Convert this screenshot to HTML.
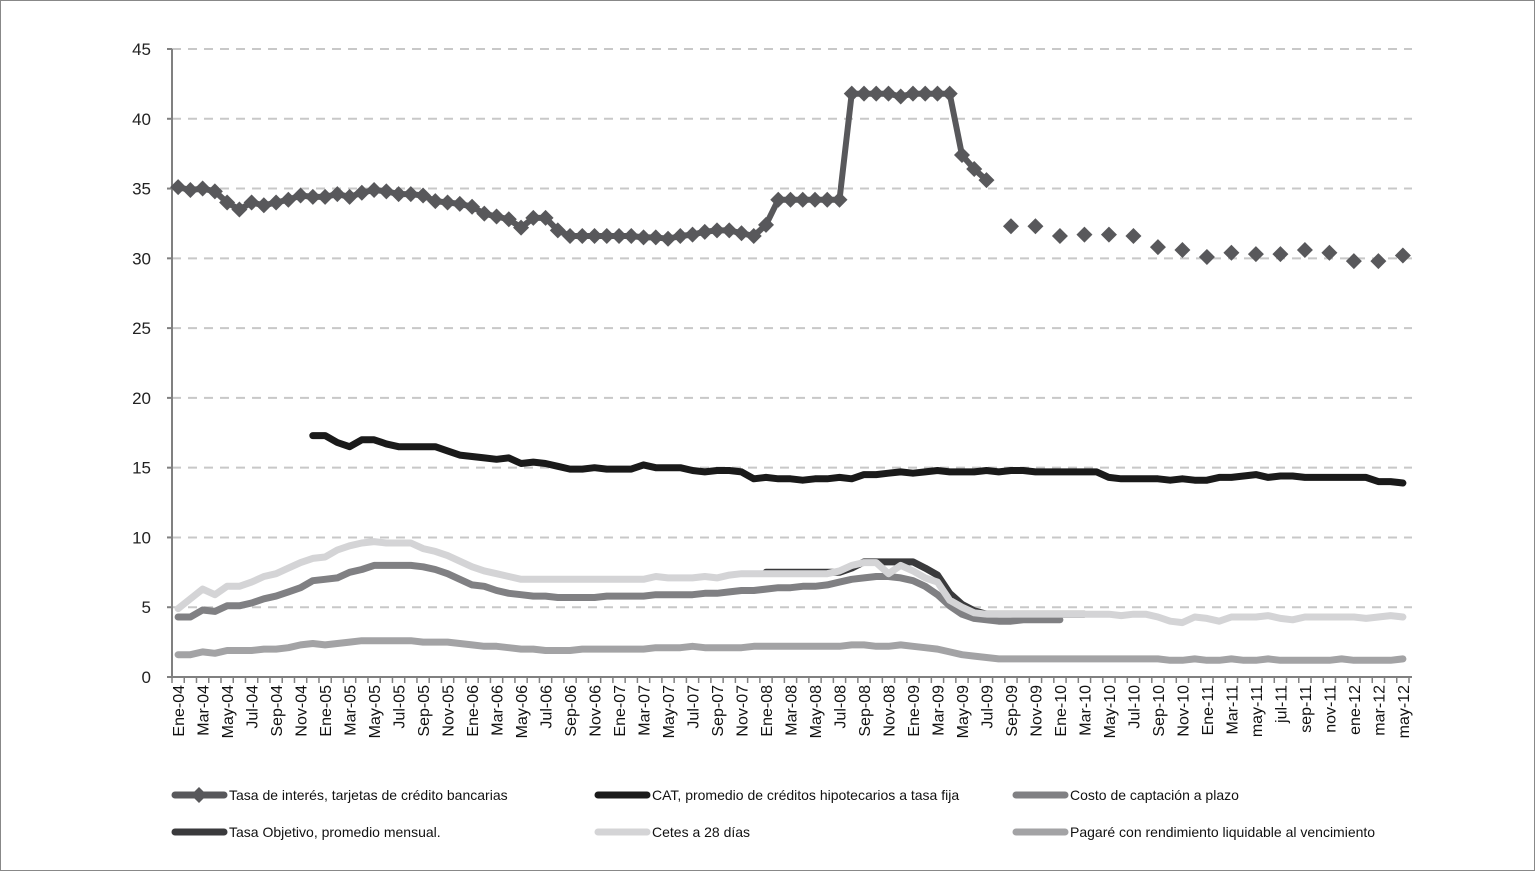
<!DOCTYPE html>
<html><head><meta charset="utf-8"><style>
html,body{margin:0;padding:0;background:#fff}
svg{display:block;font-family:"Gill Sans","Liberation Sans",sans-serif}
</style></head><body>
<svg id="chart" width="1535" height="871" viewBox="0 0 1535 871">
<rect x="0.5" y="0.5" width="1534" height="870" fill="#fff" stroke="#888"/>
<g id="grid"></g><g id="axes"></g><g id="series"></g><g id="legend"></g>
</svg>
<script>
const months=["Ene","Feb","Mar","Abr","May","Jun","Jul","Ago","Sep","Oct","Nov","Dic"];
const monthsLow=["ene","feb","mar","abr","may","jun","jul","ago","sep","oct","nov","dic"];
const yTicks=[0,5,10,15,20,25,30,35,40,45];
const N=101;
const tarjetas=[35.1,34.9,35.0,34.8,34.0,33.5,34.0,33.8,34.0,34.2,34.5,34.4,34.4,34.6,34.4,34.7,34.9,34.8,34.6,34.6,34.5,34.1,34.0,33.9,33.7,33.2,33.0,32.8,32.2,32.9,32.9,32.0,31.6,31.6,31.6,31.6,31.6,31.6,31.5,31.5,31.4,31.6,31.7,31.9,32.0,32.0,31.8,31.6,32.4,34.2,34.2,34.2,34.2,34.2,34.2,41.8,41.8,41.8,41.8,41.6,41.8,41.8,41.8,41.8,37.4,36.4,35.6,null,32.3,null,32.3,null,31.6,null,31.7,null,31.7,null,31.6,null,30.8,null,30.6,null,30.1,null,30.4,null,30.3,null,30.3,null,30.6,null,30.4,null,29.8,null,29.8,null,30.2];
const cat=[null,null,null,null,null,null,null,null,null,null,null,17.3,17.3,16.8,16.5,17.0,17.0,16.7,16.5,16.5,16.5,16.5,16.2,15.9,15.8,15.7,15.6,15.7,15.3,15.4,15.3,15.1,14.9,14.9,15.0,14.9,14.9,14.9,15.2,15.0,15.0,15.0,14.8,14.7,14.8,14.8,14.7,14.2,14.3,14.2,14.2,14.1,14.2,14.2,14.3,14.2,14.5,14.5,14.6,14.7,14.6,14.7,14.8,14.7,14.7,14.7,14.8,14.7,14.8,14.8,14.7,14.7,14.7,14.7,14.7,14.7,14.3,14.2,14.2,14.2,14.2,14.1,14.2,14.1,14.1,14.3,14.3,14.4,14.5,14.3,14.4,14.4,14.3,14.3,14.3,14.3,14.3,14.3,14.0,14.0,13.9];
const costo=[4.3,4.3,4.8,4.7,5.1,5.1,5.3,5.6,5.8,6.1,6.4,6.9,7.0,7.1,7.5,7.7,8.0,8.0,8.0,8.0,7.9,7.7,7.4,7.0,6.6,6.5,6.2,6.0,5.9,5.8,5.8,5.7,5.7,5.7,5.7,5.8,5.8,5.8,5.8,5.9,5.9,5.9,5.9,6.0,6.0,6.1,6.2,6.2,6.3,6.4,6.4,6.5,6.5,6.6,6.8,7.0,7.1,7.2,7.2,7.1,6.9,6.5,5.9,5.1,4.5,4.2,4.1,4.0,4.0,4.1,4.1,4.1,4.1];
const objetivo=[null,null,null,null,null,null,null,null,null,null,null,null,null,null,null,null,null,null,null,null,null,null,null,null,null,null,null,null,null,null,null,null,null,null,null,null,null,null,null,null,null,null,null,null,null,null,null,null,7.5,7.5,7.5,7.5,7.5,7.5,7.5,7.8,8.25,8.25,8.25,8.25,8.25,7.8,7.3,6.0,5.2,4.75,4.5,4.5,4.5,4.5,4.5,4.5,4.5,4.5,4.5];
const cetes=[4.9,5.6,6.3,5.9,6.5,6.5,6.8,7.2,7.4,7.8,8.2,8.5,8.6,9.1,9.4,9.6,9.7,9.6,9.6,9.6,9.2,9.0,8.7,8.3,7.9,7.6,7.4,7.2,7.0,7.0,7.0,7.0,7.0,7.0,7.0,7.0,7.0,7.0,7.0,7.2,7.1,7.1,7.1,7.2,7.1,7.3,7.4,7.4,7.4,7.4,7.4,7.4,7.4,7.4,7.6,8.0,8.2,8.2,7.4,8.0,7.6,7.1,6.8,5.5,5.0,4.6,4.5,4.5,4.5,4.5,4.5,4.5,4.5,4.5,4.5,4.5,4.5,4.4,4.5,4.5,4.3,4.0,3.9,4.3,4.2,4.0,4.3,4.3,4.3,4.4,4.2,4.1,4.3,4.3,4.3,4.3,4.3,4.2,4.3,4.4,4.3];
const pagare=[1.6,1.6,1.8,1.7,1.9,1.9,1.9,2.0,2.0,2.1,2.3,2.4,2.3,2.4,2.5,2.6,2.6,2.6,2.6,2.6,2.5,2.5,2.5,2.4,2.3,2.2,2.2,2.1,2.0,2.0,1.9,1.9,1.9,2.0,2.0,2.0,2.0,2.0,2.0,2.1,2.1,2.1,2.2,2.1,2.1,2.1,2.1,2.2,2.2,2.2,2.2,2.2,2.2,2.2,2.2,2.3,2.3,2.2,2.2,2.3,2.2,2.1,2.0,1.8,1.6,1.5,1.4,1.3,1.3,1.3,1.3,1.3,1.3,1.3,1.3,1.3,1.3,1.3,1.3,1.3,1.3,1.2,1.2,1.3,1.2,1.2,1.3,1.2,1.2,1.3,1.2,1.2,1.2,1.2,1.2,1.3,1.2,1.2,1.2,1.2,1.3];

const NS="http://www.w3.org/2000/svg";
const L=172,R=1412,T=49,B=677;
const step=(1409-L)/N;
function xs(i){return L+step*(i+0.5);}
function ys(v){return B-(B-T)*v/45;}
function mk(tag,attrs,parent){const e=document.createElementNS(NS,tag);for(const k in attrs)e.setAttribute(k,attrs[k]);parent.appendChild(e);return e;}
const grid=document.getElementById('grid'),axes=document.getElementById('axes'),ser=document.getElementById('series'),leg=document.getElementById('legend');

yTicks.forEach(v=>{
  if(v>0){const g=mk('line',{x1:L,x2:R,y1:ys(v),y2:ys(v),stroke:'#c8c8c8','stroke-width':2,'stroke-dasharray':'9,7'},grid);
  
  }
  const t=mk('text',{x:151,y:ys(v)+6,'text-anchor':'end','font-size':17,fill:'#222'},axes);t.textContent=v;
  
  
  const tk=mk('line',{x1:L-5,x2:L,y1:ys(v),y2:ys(v),stroke:'#808080','stroke-width':2},axes);
  
  
});
const ya=mk('line',{x1:L,x2:L,y1:T,y2:B,stroke:'#808080','stroke-width':2},axes);


const xa=mk('line',{x1:L,x2:R,y1:B,y2:B,stroke:'#808080','stroke-width':2},axes);


for(let i=0;i<=N;i++){const x=L+step*i;const tk=mk('line',{x1:x,x2:x,y1:B,y2:B+6,stroke:'#808080','stroke-width':1.5},axes);
  
  }
for(let i=0;i<N;i+=2){
  const y=4+Math.floor(i/12),m=i%12;
  const lab=(i<88?months[m]:monthsLow[m])+'-'+String(y).padStart(2,'0');
  const x=xs(i)+6;
  const t=mk('text',{x:x,y:685,transform:`rotate(-90 ${x} 685)`,'text-anchor':'end','font-size':16,fill:'#111'},axes);
  t.textContent=lab;
  
  
}
function line(arr,color,w,name){
  let d='',pen=false;
  arr.slice(0,N).forEach((v,i)=>{if(v==null){pen=false;return;}d+=(pen?'L':'M')+xs(i).toFixed(1)+' '+ys(v).toFixed(1)+' ';pen=true;});
  const p=mk('path',{d:d,fill:'none',stroke:color,'stroke-width':w,'stroke-linejoin':'round','stroke-linecap':'round'},ser);
  
  
}
line(pagare,'#a3a3a5',7,'pagare-line');
line(costo,'#808083',7,'costo-captacion-line');
line(objetivo,'#3a3a3c',7,'tasa-objetivo-line');
line(cetes,'#d4d4d6',7,'cetes-line');
line(cat,'#1a1a1a',7,'cat-hipotecario-line');
line(tarjetas,'#58585b',6,'tarjetas-line');
tarjetas.slice(0,N).forEach((v,i)=>{if(v==null)return;const x=xs(i),y=ys(v);
  const p=mk('path',{d:`M${x-8} ${y}L${x} ${y-8}L${x+8} ${y}L${x} ${y+8}Z`,fill:'#58585b'},ser);
  
  });

const legItems=[
 ['Tasa de interés, tarjetas de crédito bancarias','#58585b',172,795,true],
 ['CAT, promedio de créditos hipotecarios a tasa fija','#1a1a1a',595,795,false],
 ['Costo de captación a plazo','#808083',1013,795,false],
 ['Tasa Objetivo, promedio mensual.','#3a3a3c',172,832,false],
 ['Cetes a 28 días','#d4d4d6',595,832,false],
 ['Pagaré con rendimiento liquidable al vencimiento','#a3a3a5',1013,832,false]];
legItems.forEach(it=>{
  const g=mk('g',{},leg);
  
  
  mk('line',{x1:it[2]+3,x2:it[2]+52,y1:it[3],y2:it[3],stroke:it[1],'stroke-width':7,'stroke-linecap':'round'},g);
  if(it[4])mk('path',{d:`M${it[2]+27} ${it[3]-8}L${it[2]+35} ${it[3]}L${it[2]+27} ${it[3]+8}L${it[2]+19} ${it[3]}Z`,fill:it[1]},g);
  const t=mk('text',{x:it[2]+57,y:it[3]+5,'font-size':14,fill:'#111'},g);t.textContent=it[0];
});
</script>
</body></html>
